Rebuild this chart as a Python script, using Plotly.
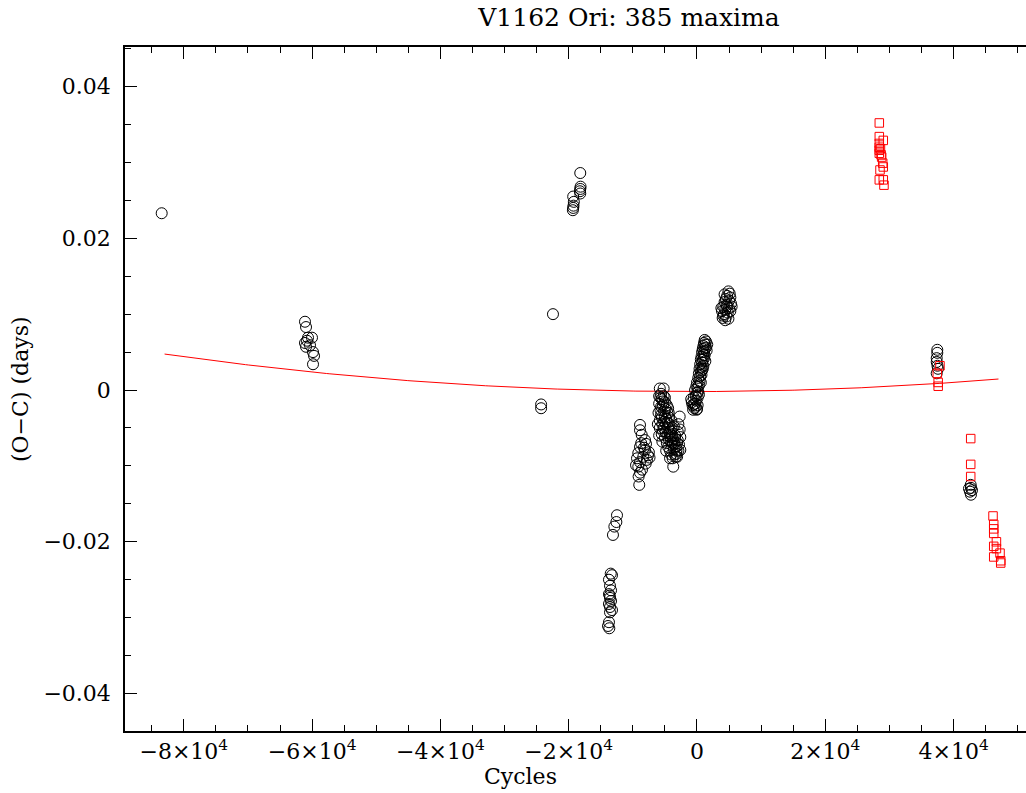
import plotly.graph_objects as go
import numpy as np

# ---- data (cycles, O-C days) ----
black_x = [
    -83450,
    -61110, -60950, -61110, -60640, -60020, -60330, -60950, -59860, -59700, -59860, -60800,
    -24300, -24300,
    -22450,
    -19300, -19200, -19250, -19300, -19350,
    -18200, -18150, -18200, -18250, -18200,
    -12470, -12570, -12880, -13100,
    -13450, -13250, -13720, -13560, -13400, -13720, -13560, -13400, -13720, -13560,
    -13250, -13720, -13870, -13670, -13560, -13600,
    -8885, -8885, -8620, -8100, -8885, -8100, -9150, -8370, -8885, -9150, -8885, -9000,
    -7950, -7640, -7800, -9500, -8570, -9350, -8260, -7500, -7400, -8700, -9100, -8000,
    -5800, -5200, -5600, -5500, -5900, -5300, -5700, -5100, -5600, -5000, -5800, -4800,
    -5400, -4600, -5200, -4500, -5900, -5500, -4900, -4300, -5000, -4400, -4700, -4100,
    -4500, -3900, -4200, -3600, -4000, -3500, -3800, -3300, -3700, -2700, -2600, -2600,
    -3100, -5000, -4700, -4400, -4000, -3800, -3400, -3100, -2900, -5400, -6000, -6100,
    -5300, -4900, -4300, -4100, -3700, -3300, -5700, -5100, -4600, -3900, -3500, -3200,
    -2900, -3000, -5800, -4800, -4200, -5600, -5000, -4400, -3600, -3000, -5200, -4600,
    -4000, -3400, -2800, -5900, -5500, -5300, -4900, -4500, -4100, -3800, -3200, -2700,
    -900, -700, -600, -400, -300, -500, -200, -100, 0, 100, -300, 100, 200, 300, 0, 400,
    200, 500, 300, 600, 400, 700, 500, 800, 600, 900, 700, 1000, 800, 1100, 900, 1200,
    1000, 1300, 1100, 1400, 1200, 1300, 900, -200, -500, 100, -100, 600, 1000, -800,
    0, 1200, 1400, 700, -50, 1500, 1600, 300, 800, 1100,
    4900, 5100, 4700, 5200, 4500, 5000, 4300, 5300, 4600, 4100, 5000, 4400, 3900, 4800,
    4200, 4600, 4000, 4400, 4900, 5400, 3800, 4300, 5200, 4700, 4100,
    37460, 37460, 37370, 37370, 37490, 37370, 37570,
    42670, 42710, 42560, 42870, 42710, 42400,
]
black_y = [
    0.0233,
    0.0090, 0.0083, 0.0062, 0.0069, 0.0069, 0.0059, 0.0057, 0.0050, 0.0045, 0.0034, 0.0065,
    -0.0019, -0.0024,
    0.0100,
    0.0255, 0.0248, 0.0243, 0.0240, 0.0237,
    0.0286, 0.0268, 0.0265, 0.0262, 0.0259,
    -0.0165, -0.0174, -0.0180, -0.0191,
    -0.0242, -0.0244, -0.0250, -0.0258, -0.0264, -0.0269, -0.0274, -0.0278, -0.0282, -0.0286,
    -0.0290, -0.0306, -0.0311, -0.0314, -0.0293, -0.0271,
    -0.0046, -0.0053, -0.0059, -0.0066, -0.0075, -0.0079, -0.0083, -0.0088, -0.0095, -0.0101, -0.0109, -0.0125,
    -0.0071, -0.0086, -0.0092, -0.0099, -0.0105, -0.0090, -0.0076, -0.0082, -0.0089, -0.0070, -0.0114, -0.0097,
    0.0002, 0.0002, -0.0005, -0.0012, -0.0018, -0.0020, -0.0026, -0.0028, -0.0033, -0.0035, -0.0040, -0.0038,
    -0.0045, -0.0043, -0.0050, -0.0050, -0.0060, -0.0058, -0.0055, -0.0057, -0.0063, -0.0065, -0.0070, -0.0068,
    -0.0075, -0.0073, -0.0080, -0.0078, -0.0085, -0.0085, -0.0090, -0.0088, -0.0101, -0.0035, -0.0062, -0.0079,
    -0.0088, -0.0010, -0.0020, -0.0030, -0.0040, -0.0050, -0.0060, -0.0070, -0.0080, -0.0068, -0.0030, -0.0045,
    -0.0015, -0.0025, -0.0045, -0.0055, -0.0065, -0.0075, -0.0010, -0.0042, -0.0060, -0.0060, -0.0070, -0.0080,
    -0.0045, -0.0055, -0.0050, -0.0080, -0.0090, -0.0022, -0.0016, -0.0036, -0.0048, -0.0066, -0.0008, -0.0030,
    -0.0052, -0.0064, -0.0072, -0.0008, -0.0036, -0.0054, -0.0044, -0.0024, -0.0062, -0.0070, -0.0084, -0.0052,
    -0.0012, -0.0020, -0.0026, -0.0024, -0.0018, -0.0010, -0.0008, -0.0014, -0.0004, -0.0010, 0.0000, 0.0004, -0.0002, 0.0006, 0.0010, 0.0012,
    0.0016, 0.0018, 0.0022, 0.0024, 0.0028, 0.0030, 0.0034, 0.0036, 0.0040, 0.0040, 0.0044, 0.0046, 0.0050, 0.0050, 0.0054, 0.0055,
    0.0058, 0.0060, 0.0062, 0.0064, 0.0046, 0.0038, 0.0028, -0.0022, -0.0019, -0.0020, 0.0005, 0.0010, 0.0032, -0.0016,
    -0.0025, 0.0066, 0.0056, 0.0020, -0.0026, 0.0052, 0.0060, -0.0006, 0.0026, 0.0042,
    0.0130, 0.0127, 0.0124, 0.0122, 0.0120, 0.0118, 0.0116, 0.0114, 0.0112, 0.0110, 0.0108, 0.0106, 0.0104, 0.0102,
    0.0100, 0.0097, 0.0095, 0.0092, 0.0094, 0.0110, 0.0108, 0.0126, 0.0104, 0.0110, 0.0098,
    0.0053, 0.0049, 0.0042, 0.0037, 0.0032, 0.0022, 0.0028,
    -0.0125, -0.0129, -0.0134, -0.0132, -0.0138, -0.0130,
]
red_x = [
    28420, 28420, 29040, 28420, 28420, 28420, 28420, 28790, 28950, 29040, 28530, 28420, 29040, 29150, 28600, 28700,
    37880, 37460, 37600, 37600,
    42670, 42670, 42670,
    46150, 46260, 46260, 46260, 46680, 46260, 46680, 46260, 47240, 47350, 47350,
]
red_y = [
    0.0352, 0.0334, 0.0329, 0.0325, 0.0320, 0.0316, 0.0312, 0.0307, 0.0299, 0.0294, 0.0290, 0.0277, 0.0277, 0.0270, 0.0318, 0.0310,
    0.0032, 0.0022, 0.0010, 0.0005,
    -0.0064, -0.0098, -0.0114,
    -0.0166, -0.0177, -0.0183, -0.0189, -0.0200, -0.0206, -0.0209, -0.0220, -0.0215, -0.0225, -0.0228,
]
# quadratic ephemeris fit  O-C = a + b*E + c*E^2
fit_coef = [-0.0002, 8.9e-10, 7.28e-13]
fit_range = [-83000, 47000]

x_tickvals = [-80000, -60000, -40000, -20000, 0, 20000, 40000]
x_ticktext = ["\u22128\u00d710<sup>4</sup>", "\u22126\u00d710<sup>4</sup>", "\u22124\u00d710<sup>4</sup>",
              "\u22122\u00d710<sup>4</sup>", "0", "2\u00d710<sup>4</sup>", "4\u00d710<sup>4</sup>"]
y_tickvals = [-0.04, -0.02, 0, 0.02, 0.04]
y_ticktext = ["\u22120.04", "\u22120.02", "0", "0.02", "0.04"]

FONT = "DejaVu Serif"

fx = np.linspace(fit_range[0], fit_range[1], 300)
fy = fit_coef[0] + fit_coef[1] * fx + fit_coef[2] * fx ** 2

fig = go.Figure()
fig.add_trace(go.Scatter(x=fx, y=fy, mode="lines", line=dict(color="red", width=1), showlegend=False))
fig.add_trace(go.Scatter(x=black_x, y=black_y, mode="markers",
                         marker=dict(symbol="circle-open", size=11, color="black", line=dict(width=1, color="black")),
                         showlegend=False))
fig.add_trace(go.Scatter(x=red_x, y=red_y, mode="markers",
                         marker=dict(symbol="square-open", size=8.5, color="red", line=dict(width=1, color="red")),
                         showlegend=False))

fig.update_layout(
    width=1026, height=793,
    margin=dict(l=125, r=0, t=47, b=62),
    paper_bgcolor="white", plot_bgcolor="white",
    font=dict(family=FONT, size=22, color="black"),
    title=dict(text="V1162 Ori: 385 maxima", x=(629 - 125) / 901, xref="paper", xanchor="center",
               y=1 - 17 / 793, yanchor="middle",
               font=dict(family=FONT, size=25, color="black")),
    xaxis=dict(range=[-89170, 51290], showgrid=False, zeroline=False,
               showline=True, linecolor="black", linewidth=1.5, mirror="ticks",
               ticks="inside", ticklen=12, tickwidth=1, tickcolor="black",
               tickvals=x_tickvals, ticktext=x_ticktext,
               minor=dict(dtick=5000, ticks="inside", ticklen=6, tickcolor="black", tickwidth=1),
               tickfont=dict(family=FONT, size=22)),
    yaxis=dict(range=[-0.04494, 0.04521], showgrid=False, zeroline=False,
               showline=True, linecolor="black", linewidth=1.5, mirror=False,
               ticks="inside", ticklen=12, tickwidth=1, tickcolor="black",
               tickvals=y_tickvals, ticktext=y_ticktext,
               minor=dict(dtick=0.005, ticks="inside", ticklen=6, tickcolor="black", tickwidth=1),
               ticklabelstandoff=8,
               tickfont=dict(family=FONT, size=22)),
    annotations=[
        dict(text="Cycles", x=(520 - 125) / 901, y=(731 - 776) / 684, xref="paper", yref="paper",
             showarrow=False, xanchor="center", yanchor="middle", font=dict(family=FONT, size=22)),
        dict(text="(O\u2212C) (days)", x=(20 - 125) / 901, y=0.5, xref="paper", yref="paper",
             showarrow=False, xanchor="center", yanchor="middle", textangle=-90, font=dict(family=FONT, size=22)),
    ],
)

fig.write_html("out.html", config={"displayModeBar": False},
               post_script="document.body.style.margin='0';document.body.style.overflow='hidden';")
